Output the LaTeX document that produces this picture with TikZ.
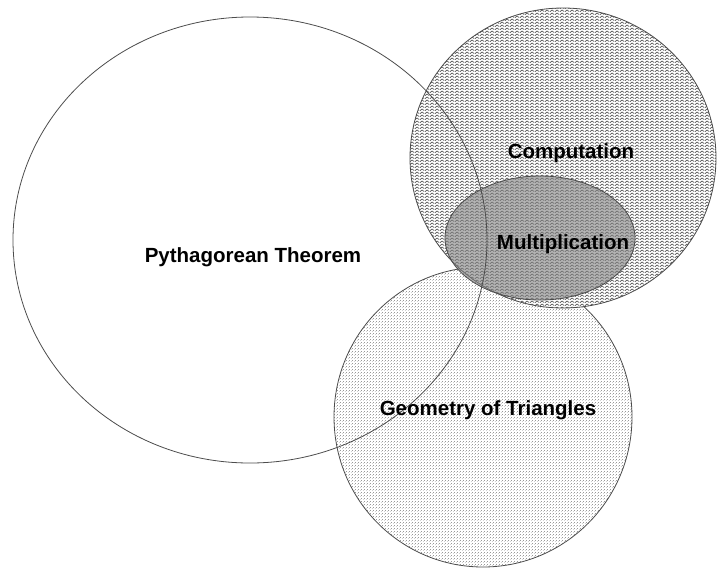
\documentclass[tikz,border=0pt]{standalone}
\usepackage{fontspec}
\setmainfont{Liberation Sans}
\usetikzlibrary{patterns}
\pgfdeclarepatternformonly{myzigzag}{\pgfpointorigin}{\pgfqpoint{5pt}{3.2pt}}{\pgfqpoint{5pt}{3.2pt}}{%
  \pgfsetlinewidth{0.7pt}%
  \pgfpathmoveto{\pgfqpoint{0pt}{0.5pt}}%
  \pgfpathlineto{\pgfqpoint{2.5pt}{2.5pt}}%
  \pgfpathlineto{\pgfqpoint{5pt}{0.5pt}}%
  \pgfusepath{stroke}}
\pgfdeclarepatternformonly{mydots}{\pgfpointorigin}{\pgfqpoint{3pt}{3pt}}{\pgfqpoint{3pt}{3pt}}{%
  \pgfpathrectangle{\pgfqpoint{0pt}{0pt}}{\pgfqpoint{0.9pt}{0.9pt}}%
  \pgfpathrectangle{\pgfqpoint{1.5pt}{1.5pt}}{\pgfqpoint{0.9pt}{0.9pt}}%
  \pgfusepath{fill}}
\tikzset{
  setline/.style={draw=black!70, line width=0.8pt},
  lbl/.style={font=\fontsize{20.5}{24}\selectfont\bfseries, text=black}
}
\begin{document}
\begin{tikzpicture}[x=1pt,y=-1pt]
\useasboundingbox (0,0) rectangle (717,568);
% Geometry of Triangles
\fill[white] (483,417) ellipse [x radius=149, y radius=150];
\fill[pattern=mydots, pattern color=black!40] (483,417) ellipse [x radius=149, y radius=150];
\draw[setline] (483,417) ellipse [x radius=149, y radius=150];
% Computation
\fill[white] (563,158) ellipse [x radius=153, y radius=150];
\fill[pattern=myzigzag, pattern color=black!75] (563,158) ellipse [x radius=153, y radius=150];
\draw[setline] (563,158) ellipse [x radius=153, y radius=150];
% Multiplication
\fill[black!50, opacity=0.6] (540,238) ellipse [x radius=95, y radius=62];
\draw[setline] (540,238) ellipse [x radius=95, y radius=62];
% Pythagorean Theorem
\draw[setline] (250,240) ellipse [x radius=237, y radius=223];
% labels
\node[lbl] (pt) at (253,257) {Pythagorean Theorem};
\node[lbl] (co) at (571,153) {Computation};
\node[lbl] (mu) at (563,244) {Multiplication};
\node[lbl] (ge) at (488,410) {Geometry of Triangles};
\end{tikzpicture}
\end{document}
